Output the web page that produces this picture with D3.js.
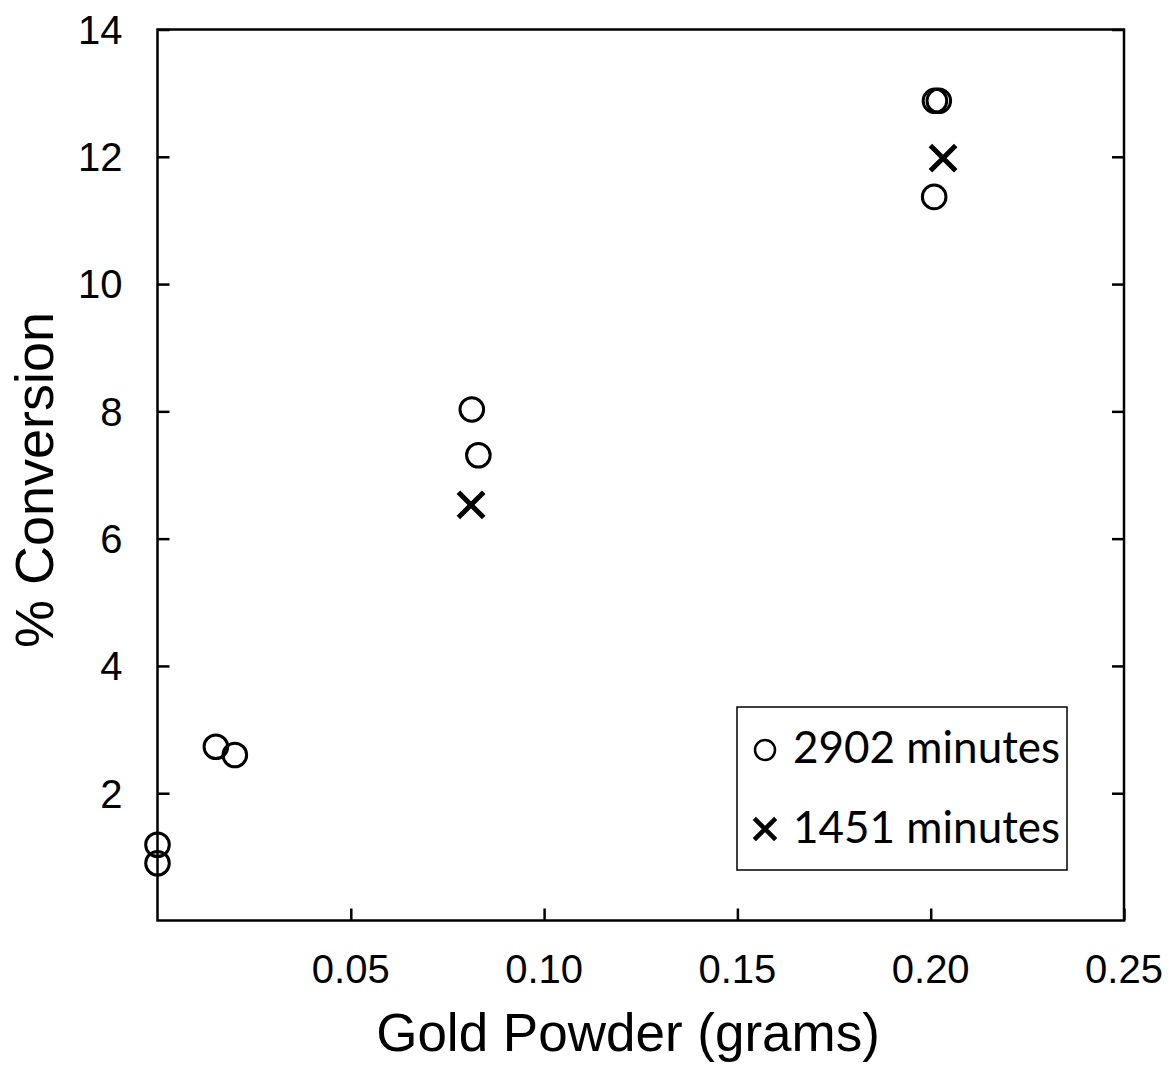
<!DOCTYPE html>
<html>
<head>
<meta charset="utf-8">
<script src="https://cdn.jsdelivr.net/npm/d3@7"></script>
<style>
	body { margin: 0; background: #fff; }
	svg { display: block; }
</style>
</head>
<body>
<div class="chart"></div>
<script>
// data
const goldLong = [0.0, 0.0, 0.0151, 0.0200, 0.0813, 0.0830, 0.2011, 0.2021, 0.2009];
const convLong = [1.19, 0.90, 2.73, 2.60, 8.03, 7.31, 12.88, 12.88, 11.37];
const goldShort = [0.0811, 0.2032];
const convShort = [6.53, 11.98];
const xTicks = [0.05, 0.10, 0.15, 0.20, 0.25];
const yTicks = [2, 4, 6, 8, 10, 12, 14];
const seriesNames = ['2902 minutes', '1451 minutes'];

const width = 1169,
	height = 1066,
	margin = { top: 29.5, right: 45, bottom: 145.5, left: 157.5 },
	w = width - margin.left - margin.right,
	h = height - margin.top - margin.bottom;

const xScale = d3.scaleLinear().domain([0, 0.25]).range([0, w]);
const yScale = d3.scaleLinear().domain([0, 14]).range([h, 0]);

const svg = d3.select('.chart').append('svg')
	.attr('width', width)
	.attr('height', height);

const g = svg.append('g').attr('transform', 'translate(' + margin.left + ',' + margin.top + ')');

// frame
g.append('rect')
	.attr('width', w)
	.attr('height', h)
	.attr('fill', 'none')
	.attr('stroke', '#000')
	.attr('stroke-width', 2.5);

// bottom axis, ticks pointing in
const xAxis = g.append('g')
	.attr('transform', 'translate(0,' + h + ')')
	.call(d3.axisTop(xScale).tickValues(xTicks).tickSize(12).tickFormat(''));
xAxis.select('.domain').remove();
xAxis.selectAll('line').attr('stroke-width', 2.5);
g.selectAll('.xlab')
	.data(xTicks)
	.enter().append('text')
	.attr('x', d => xScale(d))
	.attr('y', h + 62)
	.attr('text-anchor', 'middle')
	.attr('font-family', 'Liberation Sans, Arial, sans-serif')
	.attr('font-size', 40)
	.text(d3.format('.2f'));

// left axis
const yAxis = g.append('g')
	.call(d3.axisRight(yScale).tickValues(yTicks).tickSize(12).tickFormat(''));
yAxis.select('.domain').remove();
yAxis.selectAll('line').attr('stroke-width', 2.5);
g.selectAll('.ylab')
	.data(yTicks)
	.enter().append('text')
	.attr('x', -35)
	.attr('y', d => yScale(d))
	.attr('dy', '0.36em')
	.attr('text-anchor', 'end')
	.attr('font-family', 'Liberation Sans, Arial, sans-serif')
	.attr('font-size', 40)
	.text(d => d);

// right axis
const yAxis2 = g.append('g')
	.attr('transform', 'translate(' + w + ',0)')
	.call(d3.axisLeft(yScale).tickValues(yTicks).tickSize(12).tickFormat(''));
yAxis2.select('.domain').remove();
yAxis2.selectAll('line').attr('stroke-width', 2.5);

// axis titles
svg.append('text')
	.attr('x', 628)
	.attr('y', 1051)
	.attr('text-anchor', 'middle')
	.attr('font-family', 'Liberation Sans, Arial, sans-serif')
	.attr('font-size', 53)
	.text('Gold Powder (grams)');

svg.append('text')
	.attr('transform', 'translate(53,480) rotate(-90)')
	.attr('text-anchor', 'middle')
	.attr('font-family', 'Liberation Sans, Arial, sans-serif')
	.attr('font-size', 54)
	.text('% Conversion');

// circles, 2902 minutes
g.selectAll('.long')
	.data(goldLong)
	.enter().append('circle')
	.attr('cx', d => xScale(d))
	.attr('cy', (d, i) => yScale(convLong[i]))
	.attr('r', 11.8)
	.attr('fill', 'none')
	.attr('stroke', '#000')
	.attr('stroke-width', 3);

// crosses, 1451 minutes
const cross = d3.symbol().type(d3.symbolX).size(420);
g.selectAll('.short')
	.data(goldShort)
	.enter().append('path')
	.attr('d', cross)
	.attr('transform', (d, i) => 'translate(' + xScale(d) + ',' + yScale(convShort[i]) + ')')
	.attr('fill', 'none')
	.attr('stroke', '#000')
	.attr('stroke-width', 5);

// legend
const legend = svg.append('g');
legend.append('rect')
	.attr('x', 737)
	.attr('y', 707)
	.attr('width', 330)
	.attr('height', 163)
	.attr('fill', '#fff')
	.attr('stroke', '#000')
	.attr('stroke-width', 1.5);

legend.append('circle')
	.attr('cx', 765)
	.attr('cy', 750)
	.attr('r', 10)
	.attr('fill', 'none')
	.attr('stroke', '#000')
	.attr('stroke-width', 2.5);
legend.append('path')
	.attr('d', d3.symbol().type(d3.symbolX).size(300))
	.attr('transform', 'translate(765,829)')
	.attr('fill', 'none')
	.attr('stroke', '#000')
	.attr('stroke-width', 4.5);

legend.selectAll('.ltext')
	.data(seriesNames)
	.enter().append('text')
	.attr('x', 793)
	.attr('y', (d, i) => 763 + i * 80)
	.attr('font-family', 'Lato, Open Sans, sans-serif')
	.attr('font-size', 44)
	.text(d => d);
</script>
</body>
</html>
